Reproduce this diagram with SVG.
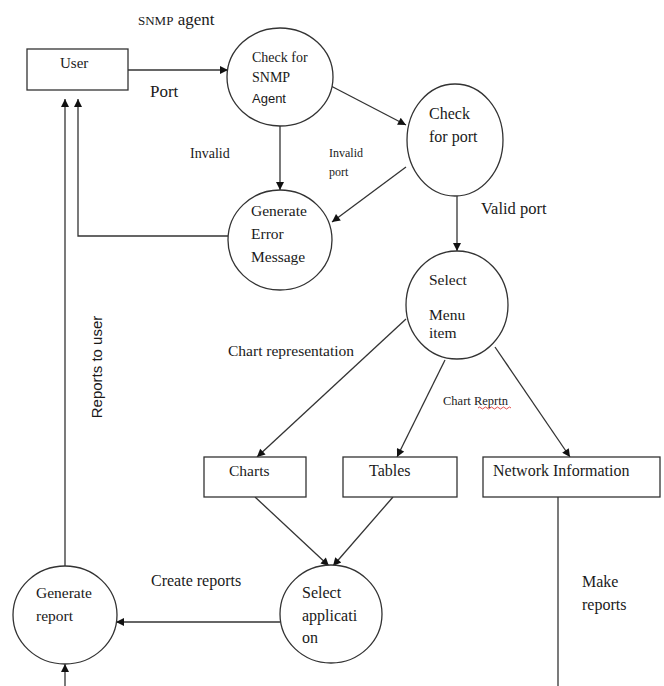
<svg xmlns="http://www.w3.org/2000/svg" width="664" height="686" viewBox="0 0 664 686">
<defs>
<marker id="ah" viewBox="0 0 10 10" refX="10" refY="5" markerWidth="10" markerHeight="8" markerUnits="userSpaceOnUse" orient="auto">
<path d="M0,0 L10,5 L0,10 z" fill="#111"/>
</marker>
</defs>
<style>
.n{fill:#fff;stroke:#333;stroke-width:1.3}
.c{fill:none;stroke:#333;stroke-width:1.3}
.a{marker-end:url(#ah)}
.t{font-family:'Liberation Serif','Times New Roman',serif;fill:#1a1a1a;font-size:16px}
.f14{font-size:14px}
.f12{font-size:12px}
.f125{font-size:12.5px}
.f15{font-size:15px}
.f155{font-size:15.5px}
.f165{font-size:16.5px}
.f17{font-size:17px}
.sans{font-family:'Liberation Sans',Arial,sans-serif}
</style>
<rect width="664" height="686" fill="#fff"/>
<g id="connectors">
<line class="c a" x1="128" y1="70" x2="228" y2="70"/>
<line class="c a" x1="280" y1="125" x2="280" y2="190"/>
<line class="c a" x1="331" y1="86" x2="406" y2="125"/>
<line class="c a" x1="406" y1="167" x2="332" y2="222"/>
<polyline class="c a" points="228,236 78,236 78,99"/>
<line class="c a" x1="457" y1="196" x2="457" y2="251"/>
<line class="c a" x1="406" y1="319" x2="257" y2="457"/>
<line class="c a" x1="445" y1="360" x2="397" y2="457"/>
<line class="c a" x1="495" y1="347" x2="570" y2="457"/>
<line class="c a" x1="255" y1="497" x2="329" y2="566"/>
<line class="c a" x1="393" y1="497" x2="333" y2="566"/>
<line class="c a" x1="280" y1="622" x2="116" y2="622"/>
<line class="c a" x1="65" y1="566" x2="65" y2="99"/>
<line class="c a" x1="65" y1="686" x2="65" y2="664"/>
<line class="c" x1="558" y1="497" x2="558" y2="686"/>
</g>
<g id="labels">
<text class="t f17" x="138" y="25"><tspan font-size="13">SNMP</tspan> agent</text>
<text class="t f17" x="150" y="97">Port</text>
<text class="t f14" x="190" y="158">Invalid</text>
<text class="t f12" x="329" y="157">Invalid</text>
<text class="t f12" x="329" y="176">port</text>
<text class="t f165" x="481" y="214">Valid port</text>
<text class="t f155" x="228" y="356">Chart representation</text>
<text class="t f125" x="443" y="405">Chart Reprtn</text>
<path d="M478,408 q1.5,-2 3,0 t3,0 t3,0 t3,0 t3,0 t3,0 t3,0 t3,0 t3,0 t3,0 t3,0" fill="none" stroke="#d22" stroke-width="0.8"/>
<text class="t" x="151" y="586">Create reports</text>
<text class="t" x="582" y="587">Make</text>
<text class="t" x="582" y="610">reports</text>
<text class="t sans f15" transform="translate(102,367) rotate(-90)" text-anchor="middle">Reports to user</text>
</g>
<g id="user">
<rect class="n" x="27" y="49" width="101" height="41"/>
<text class="t f15" x="60" y="68">User</text>
</g>
<g id="check-snmp">
<ellipse class="n" cx="280" cy="77" rx="53" ry="49"/>
<text class="t f14" x="252" y="62">Check for</text>
<text class="t f14" x="252" y="82">SNMP</text>
<text class="t sans" style="font-size:13px" x="252" y="103">Agent</text>
</g>
<g id="check-port">
<ellipse class="n" cx="455" cy="140" rx="48" ry="56"/>
<text class="t" x="429" y="119">Check</text>
<text class="t" x="429" y="142">for port</text>
</g>
<g id="generate-error">
<ellipse class="n" cx="280" cy="240" rx="52" ry="50"/>
<text class="t f155" x="251" y="216">Generate</text>
<text class="t f155" x="251" y="239">Error</text>
<text class="t f155" x="251" y="262">Message</text>
</g>
<g id="select-menu">
<ellipse class="n" cx="457" cy="305" rx="51" ry="54"/>
<text class="t f155" x="429" y="285">Select</text>
<text class="t f155" x="429" y="320">Menu</text>
<text class="t f155" x="429" y="338">item</text>
</g>
<g id="charts">
<rect class="n" x="204" y="457" width="102" height="40"/>
<text class="t f155" x="229" y="476">Charts</text>
</g>
<g id="tables">
<rect class="n" x="343" y="457" width="114" height="40"/>
<text class="t" x="369" y="476">Tables</text>
</g>
<g id="network-information">
<rect class="n" x="483" y="457" width="177" height="40"/>
<text class="t" x="493" y="476">Network Information</text>
</g>
<g id="select-application">
<ellipse class="n" cx="331" cy="614" rx="51" ry="49"/>
<text class="t" x="302" y="598">Select</text>
<text class="t" x="302" y="621">applicati</text>
<text class="t" x="302" y="643">on</text>
</g>
<g id="generate-report">
<ellipse class="n" cx="65" cy="615" rx="52" ry="49"/>
<text class="t f155" x="36" y="598">Generate</text>
<text class="t f155" x="36" y="621">report</text>
</g>
</svg>
